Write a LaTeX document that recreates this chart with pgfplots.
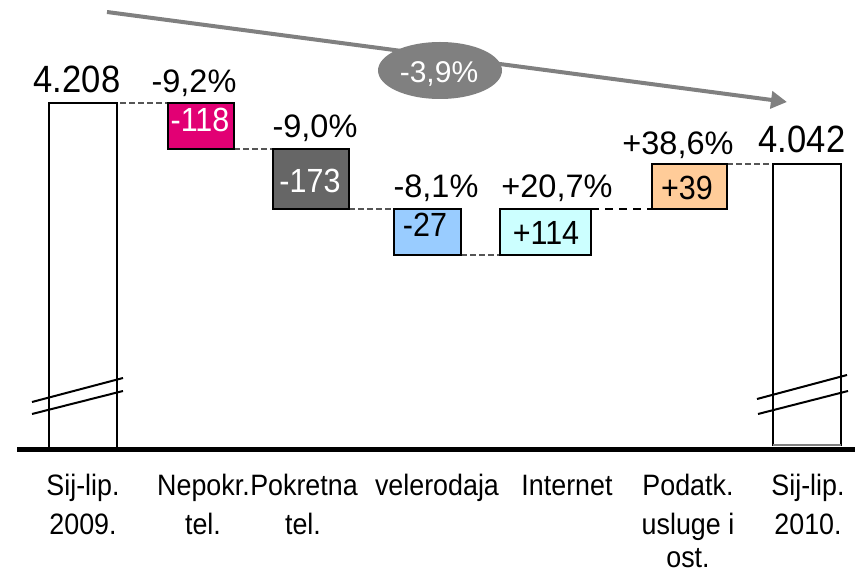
\documentclass[border=0pt]{standalone}
\usepackage{pgfplots}
\pgfplotsset{compat=1.18}
\usetikzlibrary{arrows.meta}
\usepackage{fontspec}
\setmainfont{Liberation Sans}[FakeStretch=0.91]
\newfontfamily\pctfont{Liberation Sans}
\definecolor{tmag}{HTML}{E20074}
\definecolor{tdark}{HTML}{666666}
\definecolor{tblue}{HTML}{99CCFF}
\definecolor{tcyan}{HTML}{CCFFFF}
\definecolor{torange}{HTML}{FFCC99}
\definecolor{agray}{HTML}{808080}
\definecolor{dgray}{HTML}{555555}
\newcommand{\vf}{\fontsize{38}{40}\selectfont}
\newcommand{\pf}{\pctfont\fontsize{32.5}{36}\selectfont}
\newcommand{\boxf}{\fontsize{33.5}{36}\selectfont}
\newcommand{\cf}{\fontsize{29.5}{40}\selectfont}
\begin{document}
\begin{tikzpicture}[x=1pt,y=1pt]
\useasboundingbox (0,0) rectangle (855,576);
\begin{axis}[at={(0,0)},anchor=origin,scale only axis,width=855pt,height=576pt,
  xmin=0,xmax=855,ymin=0,ymax=576,hide axis,clip=false]
% arrow and overall change
\addplot[agray,line width=4pt,-{Triangle[length=16pt,width=17pt]}] coordinates {(107,564) (787,474)};
\fill[agray] (axis cs:440,505.5) ellipse [x radius=62, y radius=28.5];
\node[anchor=base,white,font=\pctfont\fontsize{30}{32}\selectfont] at (axis cs:439,493) {-3,9\%};
% connectors
\addplot[dgray,line width=1.5pt,dash pattern=on 6pt off 3pt] coordinates {(120,473) (168,473)};
\addplot[dgray,line width=1.5pt,dash pattern=on 6pt off 3pt] coordinates {(234,427) (273,427)};
\addplot[dgray,line width=1.5pt,dash pattern=on 6pt off 3pt] coordinates {(349,367) (394,367)};
\addplot[dgray,line width=1.5pt,dash pattern=on 6pt off 3pt] coordinates {(461,321) (500,321)};
\addplot[black,line width=2pt,dash pattern=on 8pt off 6pt] coordinates {(591,367) (652,367)};
\addplot[dgray,line width=1.5pt,dash pattern=on 6pt off 3pt] coordinates {(727,412) (773,412)};
% bars: start 4208, steps -118 -173 -27 +114 +39, end 4042 (schematic, broken axis)
\addplot[draw=black,fill=white,line width=2pt] coordinates {(49,126) (49,473) (117,473) (117,126)};
\addplot[draw=black,fill=tmag,line width=2pt] coordinates {(168,427) (234,427) (234,473) (168,473)} -- cycle;
\addplot[draw=black,fill=tdark,line width=2pt] coordinates {(273,367) (349,367) (349,427) (273,427)} -- cycle;
\addplot[draw=black,fill=tblue,line width=2pt] coordinates {(394,321) (461,321) (461,367) (394,367)} -- cycle;
\addplot[draw=black,fill=tcyan,line width=2pt] coordinates {(500,321) (591,321) (591,367) (500,367)} -- cycle;
\addplot[draw=black,fill=torange,line width=2pt] coordinates {(652,367) (727,367) (727,412) (652,412)} -- cycle;
\addplot[draw=black,fill=white,line width=2pt] coordinates {(773,130) (773,412) (841,412) (841,130)};
\addplot[agray,line width=1.5pt] coordinates {(773,131) (841,131)};
% break marks
\addplot[black,line width=2pt] coordinates {(32,174) (123,198)};
\addplot[black,line width=2pt] coordinates {(32,162) (123,185)};
\addplot[black,line width=2pt] coordinates {(757,177) (847,201)};
\addplot[black,line width=2pt] coordinates {(758,162) (848,185)};
% baseline
\addplot[black,line width=5pt] coordinates {(17,126) (855,126)};
% value labels
\node[anchor=base,font=\vf] at (axis cs:77,483) {4.208};
\node[anchor=base,font=\vf] at (axis cs:802,423) {4.042};
\node[anchor=base,font=\pf] at (axis cs:194,483) {-9,2\%};
\node[anchor=base,font=\pf] at (axis cs:315,438) {-9,0\%};
\node[anchor=base,font=\pf] at (axis cs:436,378) {-8,1\%};
\node[anchor=base,font=\pf] at (axis cs:557,378) {+20,7\%};
\node[anchor=base,font=\pf] at (axis cs:678,421) {+38,6\%};
\node[anchor=base,font=\boxf,white] at (axis cs:200,444) {-118};
\node[anchor=base,font=\boxf,white] at (axis cs:310,383) {-173};
\node[anchor=base,font=\boxf] at (axis cs:425,339) {-27};
\node[anchor=base,font=\boxf] at (axis cs:546,331) {+114};
\node[anchor=base,font=\boxf] at (axis cs:687,376) {+39};
% category labels
\node[anchor=base,font=\cf] at (axis cs:83,80) {Sij-lip.};
\node[anchor=base,font=\cf] at (axis cs:83,41) {2009.};
\node[anchor=base,font=\cf] at (axis cs:203.5,80) {Nepokr.};
\node[anchor=base,font=\cf] at (axis cs:203,41) {tel.};
\node[anchor=base,font=\cf] at (axis cs:304,80) {Pokretna};
\node[anchor=base,font=\cf] at (axis cs:303,41) {tel.};
\node[anchor=base,font=\cf] at (axis cs:437,80) {velerodaja};
\node[anchor=base,font=\cf] at (axis cs:567,80) {Internet};
\node[anchor=base,font=\cf] at (axis cs:688,80) {Podatk.};
\node[anchor=base,font=\cf] at (axis cs:688,41) {usluge i};
\node[anchor=base,font=\cf] at (axis cs:688,8) {ost.};
\node[anchor=base,font=\cf] at (axis cs:808,80) {Sij-lip.};
\node[anchor=base,font=\cf] at (axis cs:808,41) {2010.};
\end{axis}
\end{tikzpicture}
\end{document}
